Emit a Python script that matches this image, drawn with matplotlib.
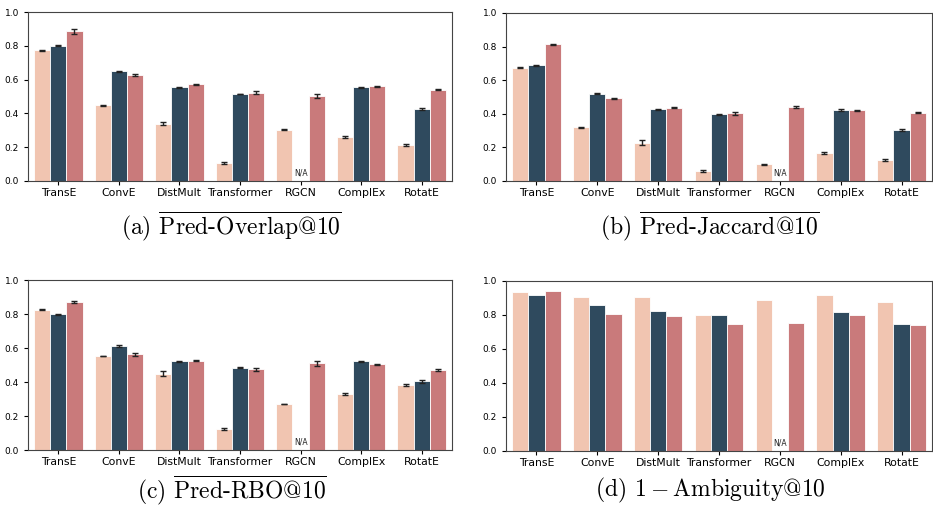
import numpy as np
import matplotlib
matplotlib.use("Agg")
import matplotlib.pyplot as plt

plt.rcParams['mathtext.fontset'] = 'cm'

models = ['TransE', 'ConvE', 'DistMult', 'Transformer', 'RGCN', 'ComplEx', 'RotatE']
nan = np.nan

# three series per panel (peach, navy, rose)
overlap_a = [0.775, 0.448, 0.339, 0.108, 0.303, 0.260, 0.215]
overlap_b = [0.799, 0.650, 0.556, 0.515, nan, 0.554, 0.426]
overlap_c = [0.887, 0.627, 0.572, 0.523, 0.504, 0.560, 0.540]
overlap_ea = [0.003, 0.002, 0.010, 0.005, 0.003, 0.004, 0.005]
overlap_eb = [0.003, 0.003, 0.003, 0.002, nan, 0.004, 0.003]
overlap_ec = [0.015, 0.006, 0.003, 0.010, 0.010, 0.003, 0.004]

jaccard_a = [0.675, 0.320, 0.228, 0.061, 0.099, 0.168, 0.127]
jaccard_b = [0.690, 0.519, 0.428, 0.396, nan, 0.424, 0.304]
jaccard_c = [0.814, 0.492, 0.436, 0.403, 0.442, 0.421, 0.407]
jaccard_ea = [0.004, 0.003, 0.015, 0.005, 0.002, 0.005, 0.005]
jaccard_eb = [0.003, 0.004, 0.003, 0.002, nan, 0.005, 0.004]
jaccard_ec = [0.004, 0.003, 0.003, 0.010, 0.006, 0.002, 0.004]

rbo_a = [0.826, 0.553, 0.450, 0.124, 0.271, 0.329, 0.385]
rbo_b = [0.798, 0.612, 0.521, 0.484, nan, 0.521, 0.403]
rbo_c = [0.871, 0.563, 0.524, 0.474, 0.509, 0.505, 0.472]
rbo_ea = [0.003, 0.002, 0.015, 0.006, 0.002, 0.005, 0.006]
rbo_eb = [0.002, 0.006, 0.004, 0.004, nan, 0.004, 0.008]
rbo_ec = [0.006, 0.008, 0.003, 0.007, 0.014, 0.003, 0.006]

amb_a = [0.938, 0.908, 0.908, 0.802, 0.889, 0.917, 0.879]
amb_b = [0.917, 0.856, 0.822, 0.802, nan, 0.816, 0.747]
amb_c = [0.939, 0.806, 0.793, 0.747, 0.751, 0.802, 0.744]

captions = [r'(a) $\overline{\mathrm{Pred}\text{-}\mathrm{Overlap@10}}$',
            r'(b) $\overline{\mathrm{Pred}\text{-}\mathrm{Jaccard@10}}$',
            r'(c) $\overline{\mathrm{Pred}\text{-}\mathrm{RBO@10}}$',
            r'(d) $1-\mathrm{Ambiguity@10}$']

colors = ['#f1c5b1', '#2f4a5e', '#c97a7b']

panels = [
    ([overlap_a, overlap_b, overlap_c], [overlap_ea, overlap_eb, overlap_ec]),
    ([jaccard_a, jaccard_b, jaccard_c], [jaccard_ea, jaccard_eb, jaccard_ec]),
    ([rbo_a, rbo_b, rbo_c], [rbo_ea, rbo_eb, rbo_ec]),
    ([amb_a, amb_b, amb_c], None),
]

W, H = 933, 508
boxes = [(28, 12, 452, 181), (506, 13, 932, 181),
         (28, 280, 452, 450), (506, 281, 932, 451)]
cap_pos = [(231, 226), (710, 226), (232, 490), (710, 490)]

fig = plt.figure(figsize=(W / 100, H / 100), dpi=100)
x = np.arange(len(models))
w = 0.8 / 3
for (vals, errs), (x0, y0, x1, y1), cap, (cx, cy) in zip(panels, boxes, captions, cap_pos):
    ax = fig.add_axes([x0 / W, 1 - y1 / H, (x1 - x0) / W, (y1 - y0) / H])
    for k in range(3):
        v = np.array(vals[k], dtype=float)
        e = None if errs is None else np.array(errs[k], dtype=float)
        ax.bar(x + (k - 1) * w, v, w, color=colors[k], edgecolor='white', linewidth=0.6,
               yerr=e, capsize=2.5, error_kw=dict(elinewidth=1.0, ecolor='#222222', capthick=1.0))
    ax.text(x[4], 0.02, 'N/A', ha='center', va='bottom', fontsize=5.5, color='#222222')
    ax.set_xlim(-0.5, 6.5)
    ax.set_ylim(0, 1.0)
    ax.set_yticks(np.arange(0, 1.01, 0.2))
    ax.set_xticks(x)
    ax.set_xticklabels(models, fontsize=7.8)
    ax.tick_params(axis='y', labelsize=6.5, length=3)
    ax.tick_params(axis='x', length=3, pad=2)
    for s in ax.spines.values():
        s.set_color('#444444')
        s.set_linewidth(0.8)
    fig.text(cx / W, 1 - cy / H, cap, ha='center', va='center', fontsize=17,
             family='cmr10')

fig.savefig('out.png', dpi=100)
